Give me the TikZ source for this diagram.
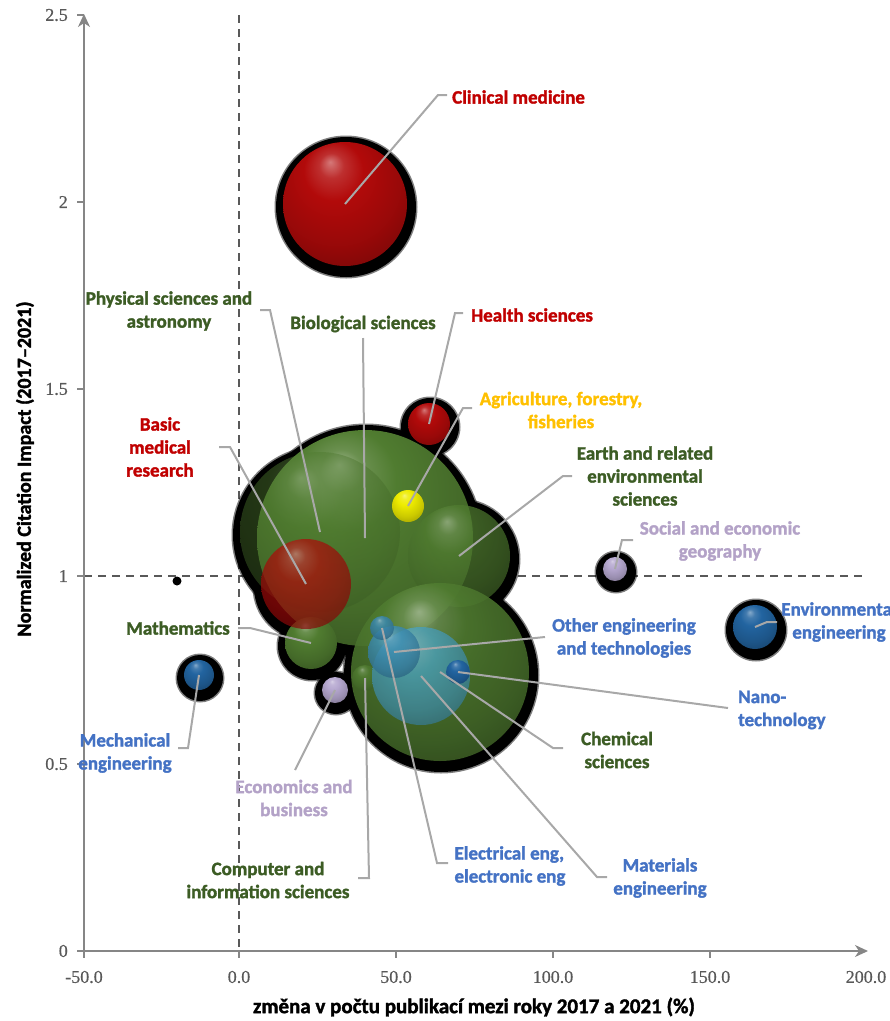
\documentclass[tikz,border=0pt]{standalone}
\usepackage{fontspec}
\setmainfont{Carlito}[BoldFeatures={FakeBold=1.6}]
\newfontfamily\tickfont{Liberation Serif}[FakeBold=0.6]
\usetikzlibrary{arrows.meta}
\definecolor{labred}{RGB}{192,0,0}
\definecolor{labgreen}{RGB}{60,92,36}
\definecolor{labyellow}{RGB}{255,192,0}
\definecolor{labblue}{RGB}{68,114,196}
\definecolor{lablav}{RGB}{179,162,199}
\definecolor{leadgray}{RGB}{168,168,168}
\definecolor{axisgray}{RGB}{134,134,134}
\definecolor{tickgray}{RGB}{89,89,89}
\definecolor{bred}{RGB}{178,10,10}
\definecolor{bgreen}{RGB}{80,124,48}
\definecolor{byellow}{RGB}{238,236,0}
\definecolor{bblue}{RGB}{34,100,160}
\definecolor{bcyan}{RGB}{74,160,186}
\definecolor{blav}{RGB}{182,168,208}
\makeatletter
\pgfdeclareradialshading[tikz@ball]{softball}{\pgfqpoint{-6bp}{17bp}}{%
 color(0bp)=(tikz@ball!55!white);
 color(5bp)=(tikz@ball!85!white);
 color(12bp)=(tikz@ball);
 color(26bp)=(tikz@ball!85!black);
 color(40bp)=(tikz@ball!62!black);
 color(56bp)=(tikz@ball!40!black)}
\makeatother
\tikzset{
 lab/.style={font=\fontsize{19}{23}\selectfont\bfseries, align=center, inner sep=0pt},
 leader/.style={draw=leadgray, line width=2pt},
 ballof/.style={ball color=#1, shading=softball},
 axisline/.style={draw=axisgray, line width=1.6pt},
 dashln/.style={draw=tickgray, line width=1.4pt, dash pattern=on 8pt off 6pt},
 ticklab/.style={font=\tickfont\fontsize{18}{20}\selectfont, text=tickgray, inner sep=0pt},
 axtitle/.style={font=\fontsize{20}{24}\selectfont\bfseries, inner sep=0pt}
}
\newcommand{\halo}[2]{%
 \fill[black, opacity=0.5] ([shift={(1,3)}]#1) circle[radius=#2+9.5];
 \fill[black] ([shift={(1,3)}]#1) circle[radius=#2+8];}
\begin{document}
\begin{tikzpicture}[x=1pt,y=-1pt]
\useasboundingbox (0,0) rectangle (890,1021);
% ---- axes frame coordinates
\coordinate (o) at (84,951);
\coordinate (ytop) at (84,14);
\coordinate (xend) at (868,951);
\coordinate (v0) at (239,15);
\coordinate (v1) at (239,951);
\coordinate (h0) at (84,576);
\coordinate (h1) at (864,576);
% dashed reference lines
\draw[dashln] (v0) -- (v1);
\draw[dashln] (h0) -- (h1);
% ---- bubble centres
\coordinate (bio) at (365,538);
\coordinate (phys) at (320,532);
\coordinate (earth) at (459,556);
\coordinate (chem) at (440,672);
\coordinate (math) at (311,643);
\coordinate (comp) at (365,678);
\coordinate (basic) at (306,584);
\coordinate (mat) at (421,676);
\coordinate (other) at (394,652);
\coordinate (elec) at (382,628);
\coordinate (nano) at (458,672);
\coordinate (agri) at (408,506);
\coordinate (health) at (429,424);
\coordinate (clin) at (345,204);
\coordinate (econ) at (335,690);
\coordinate (soc) at (615,569);
\coordinate (mech) at (199,675);
\coordinate (env) at (755,627);
\coordinate (dot) at (177,581);
% ---- halos
\halo{bio}{108}
\halo{phys}{80}
\halo{earth}{51}
\halo{chem}{89}
\halo{math}{26}
\halo{basic}{45}
\halo{econ}{13}
\halo{health}{21}
\halo{clin}{62}
\halo{soc}{12}
\halo{mech}{15}
\halo{env}{22}
\fill[black] (dot) circle[radius=4.5];
% ---- balls
\shade[ballof=bgreen] (bio) circle[radius=108];
\shade[ballof=bgreen, fill opacity=0.45] (phys) circle[radius=80];
\shade[ballof=bgreen, fill opacity=0.75] (earth) circle[radius=51];
\shade[ballof=bgreen, fill opacity=0.9] (chem) circle[radius=89];
\shade[ballof=bgreen] (math) circle[radius=26];
\shade[ballof=bred, fill opacity=0.7] (basic) circle[radius=45];
\shade[ballof=bgreen, fill opacity=0.8] (comp) circle[radius=13];
\shade[ballof=bcyan, fill opacity=0.8] (mat) circle[radius=49];
\shade[ballof=bcyan!70!bblue, fill opacity=0.85] (other) circle[radius=26];
\shade[ballof=bcyan!60!bblue, fill opacity=0.85] (elec) circle[radius=12];
\shade[ballof=bblue] (nano) circle[radius=12];
\shade[ballof=byellow] (agri) circle[radius=16];
\shade[ballof=bred] (health) circle[radius=21];
\shade[ballof=bred] (clin) circle[radius=62];
\shade[ballof=blav] (econ) circle[radius=13];
\shade[ballof=blav] (soc) circle[radius=12];
\shade[ballof=bblue] (mech) circle[radius=15];
\shade[ballof=bblue] (env) circle[radius=22];
% ---- axes
\draw[axisline, -{Stealth[length=13pt,width=12pt,inset=4pt]}] (o) -- (ytop);
\draw[axisline, -{Stealth[length=13pt,width=12pt,inset=4pt]}] (o) -- (xend);
\foreach \yy/\lbl in {951/0,764/0.5,576/1,389/1.5,202/2,15/2.5}{
  \draw[axisline] (77,\yy) -- (84,\yy);
  \node[ticklab, anchor=east] at (68,\yy) {\lbl};
}
\foreach \xx/\lbl in {84/-50.0,239/0.0,396/50.0,553/100.0,710/150.0}{
  \draw[axisline] (\xx,951) -- (\xx,958);
  \node[ticklab] at (\xx,977) {\lbl};
}
\node[ticklab] at (866,977) {200.0};
\node[axtitle, font=\fontsize{21}{24}\selectfont\bfseries] (xtitle) at (474,1007) {změna v počtu publikací mezi roky 2017 a 2021 (\%)};
\node[axtitle, rotate=90] (ytitle) at (25,469) {Normalized Citation Impact (2017–2021)};
% ---- labels
\node[lab, text=labred, anchor=west] (Lclin) at (452,97) {Clinical medicine};
\node[lab, text=labgreen] (Lphys) at (169,311) {Physical sciences and\\astronomy};
\node[lab, text=labgreen] (Lbio) at (363,324) {Biological sciences};
\node[lab, text=labred, anchor=west] (Lhealth) at (471,315) {Health sciences};
\node[lab, text=labred] (Lbasic) at (160,447) {Basic\\medical\\research};
\node[lab, text=labyellow] (Lagri) at (561,410) {Agriculture, forestry,\\fisheries};
\node[lab, text=labgreen] (Learth) at (645,476) {Earth and related\\environmental\\sciences};
\node[lab, text=lablav] (Lsoc) at (720,541) {Social and economic\\geography};
\node[lab, text=labblue] (Lenv) at (839,622) {Environmental\\engineering};
\node[lab, text=labblue] (Lother) at (624,638) {Other engineering\\and technologies};
\node[lab, text=labblue, align=left, anchor=west] (Lnano) at (738,710) {Nano-\\technology};
\node[lab, text=labgreen] (Lchem) at (617,750) {Chemical\\sciences};
\node[lab, text=labgreen] (Lmath) at (178,628) {Mathematics};
\node[lab, text=labblue] (Lmech) at (125,753) {Mechanical\\engineering};
\node[lab, text=lablav] (Lecon) at (294,798) {Economics and\\business};
\node[lab, text=labgreen] (Lcomp) at (268,880) {Computer and\\information sciences};
\node[lab, text=labblue, align=left] (Lelec) at (510,866) {Electrical eng,\\electronic eng};
\node[lab, text=labblue] (Lmat) at (660,878) {Materials\\engineering};
% ---- leader elbows
\coordinate (clin1) at (438,95); \coordinate (clin2) at (447,95);
\coordinate (phys1) at (270,310); \coordinate (phys2) at (260,310);
\coordinate (bio1) at (363,338);
\coordinate (health1) at (455,313); \coordinate (health2) at (463,313);
\coordinate (agri1) at (463,408); \coordinate (agri2) at (472,408);
\coordinate (basic1) at (230,447); \coordinate (basic2) at (219,447);
\coordinate (earth1) at (563,476); \coordinate (earth2) at (572,476);
\coordinate (soc1) at (622,540); \coordinate (soc2) at (633,540);
\coordinate (env1) at (767,622); \coordinate (env2) at (777,622);
\coordinate (other1) at (545,637);
\coordinate (nano1) at (728,708);
\coordinate (chem1) at (553,748); \coordinate (chem2) at (563,748);
\coordinate (mat1) at (597,877); \coordinate (mat2) at (607,877);
\coordinate (elec1) at (437,863); \coordinate (elec2) at (448,863);
\coordinate (comp1) at (369,878); \coordinate (comp2) at (358,878);
\coordinate (econ1) at (295,770);
\coordinate (mech1) at (188,748); \coordinate (mech2) at (178,748);
\coordinate (math1) at (250,628); \coordinate (math2) at (238,628);
% ---- leaders
\draw[leader] (clin) -- (clin1) -- (clin2);
\draw[leader] (phys) -- (phys1) -- (phys2);
\draw[leader] (bio) -- (bio1);
\draw[leader] (health) -- (health1) -- (health2);
\draw[leader] (agri) -- (agri1) -- (agri2);
\draw[leader] (basic) -- (basic1) -- (basic2);
\draw[leader] (earth) -- (earth1) -- (earth2);
\draw[leader] (soc) -- (soc1) -- (soc2);
\draw[leader] (env) -- (env1) -- (env2);
\draw[leader] (other) -- (other1);
\draw[leader] (nano) -- (nano1);
\draw[leader] (chem) -- (chem1) -- (chem2);
\draw[leader] (mat) -- (mat1) -- (mat2);
\draw[leader] (elec) -- (elec1) -- (elec2);
\draw[leader] (comp) -- (comp1) -- (comp2);
\draw[leader] (econ) -- (econ1);
\draw[leader] (mech) -- (mech1) -- (mech2);
\draw[leader] (math) -- (math1) -- (math2);
\end{tikzpicture}
\end{document}
